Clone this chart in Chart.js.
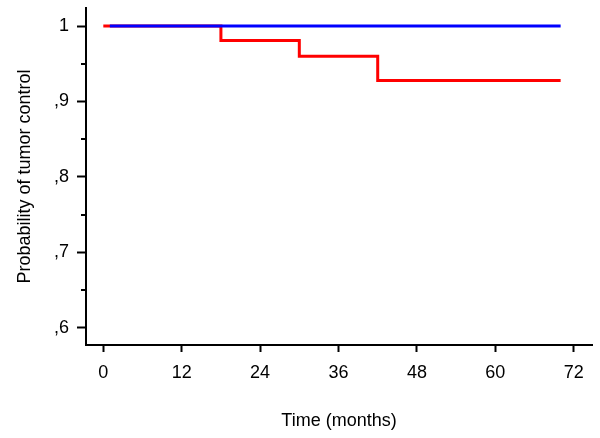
<!DOCTYPE html>
<html>
<head>
<meta charset="utf-8">
<script src="https://cdn.jsdelivr.net/npm/chart.js@4/dist/chart.umd.min.js"></script>
<style>
html,body{margin:0;padding:0;background:#fff;}
#wrap{width:600px;height:438px;position:relative;}
</style>
</head>
<body>
<div id="wrap"><canvas id="c"></canvas></div>
<script>
// Data
const timeBlue = [1, 70];
const survBlue = [1, 1];
const timeRed = [0, 18, 30, 42, 70];
const survRed = [1, 0.981, 0.96, 0.928, 0.928];
const xTicks = [0, 12, 24, 36, 48, 60, 72];
const yTicks = [0.6, 0.7, 0.8, 0.9, 1.0];
const yTickLabels = [',6', ',7', ',8', ',9', '1'];
const yMinorTicks = [0.65, 0.75, 0.85, 0.95];

const FONT = {family: 'Liberation Sans, Arial, sans-serif', size: 18};

const minorTicks = {
  id: 'minorTicks',
  afterDraw(chart) {
    const ys = chart.scales.y;
    const ctx = chart.ctx;
    ctx.save();
    ctx.strokeStyle = '#000';
    ctx.lineWidth = 2;
    const left = chart.chartArea.left;
    yMinorTicks.forEach(v => {
      const py = Math.round(ys.getPixelForValue(v));
      ctx.beginPath();
      ctx.moveTo(left - 5, py);
      ctx.lineTo(left, py);
      ctx.stroke();
    });
    ctx.restore();
  }
};

new Chart(document.getElementById('c'), {
  type: 'line',
  data: {
    datasets: [
      {
        data: timeBlue.map((t, i) => ({x: t, y: survBlue[i]})),
        borderColor: '#0000ff',
        borderWidth: 3,
        pointRadius: 0,
        stepped: 'before',
        fill: false
      },
      {
        data: timeRed.map((t, i) => ({x: t, y: survRed[i]})),
        borderColor: '#ff0000',
        borderWidth: 3,
        pointRadius: 0,
        stepped: 'before',
        fill: false
      }
    ]
  },
  options: {
    responsive: true,
    maintainAspectRatio: false,
    animation: false,
    layout: {padding: {left: 0, top: 8, right: 8, bottom: 0}},
    plugins: {legend: {display: false}, tooltip: {enabled: false}},
    scales: {
      x: {
        type: 'linear',
        min: -2.65,
        max: 74.8,
        afterBuildTicks: s => { s.ticks = xTicks.map(v => ({value: v})); },
        afterFit: s => { s.height = 93; s.paddingLeft = 0; s.paddingRight = 0; },
        grid: {drawOnChartArea: false, drawTicks: true, tickLength: 7, tickWidth: 2, tickColor: '#000'},
        border: {display: true, color: '#000', width: 2},
        ticks: {color: '#000', font: FONT, padding: 10, maxRotation: 0, autoSkip: false},
        title: {display: true, text: 'Time (months)', color: '#000', font: FONT, padding: {top: 0, bottom: 6}}
      },
      y: {
        type: 'linear',
        min: 0.577,
        max: 1.024,
        afterBuildTicks: s => { s.ticks = yTicks.map(v => ({value: v})); },
        afterFit: s => { s.width = 86; s.paddingTop = 0; s.paddingBottom = 0; },
        grid: {drawOnChartArea: false, drawTicks: true, tickLength: 9, tickWidth: 2, tickColor: '#000'},
        border: {display: true, color: '#000', width: 2},
        ticks: {
          color: '#000', font: FONT, padding: 8, autoSkip: false,
          callback: (v, i) => yTickLabels[i]
        },
        title: {display: true, text: 'Probability of tumor control', color: '#000', font: FONT, padding: {top: 14, bottom: 0}}
      }
    }
  },
  plugins: [minorTicks]
});
</script>
</body>
</html>
